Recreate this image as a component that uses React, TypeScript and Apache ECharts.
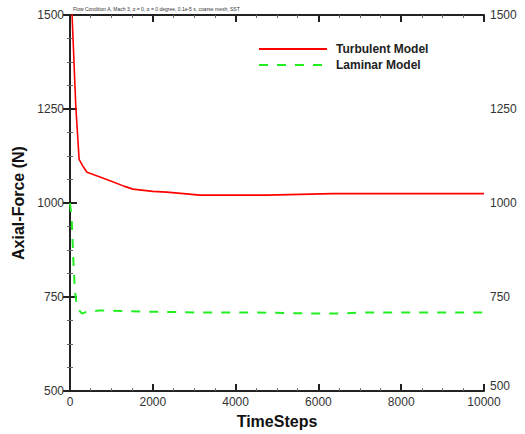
import React, { useEffect, useRef } from "react";
import * as echarts from "echarts";

const turbulentSteps = [0, 50, 140, 220, 300, 410, 725, 1000, 1300, 1520, 2000, 2340, 3140, 4750, 6350, 8000, 10000];
const turbulentForce = [1600, 1500, 1257, 1116, 1100, 1082, 1069, 1058, 1045, 1037, 1031, 1029, 1021, 1021, 1025, 1025, 1025];

const laminarSteps = [0, 40, 80, 100, 120, 160, 220, 290, 380, 460, 700, 1000, 2000, 3140, 4500, 6040, 6520, 7000, 10000];
const laminarForce = [1000, 960, 850, 807, 765, 733, 715, 706, 710, 712, 714, 714, 711, 709, 709, 706, 706, 709, 709];

const xTicks = [0, 2000, 4000, 6000, 8000, 10000];
const yTicks = [500, 750, 1000, 1250, 1500];

const FONT = "'Liberation Sans', Arial, sans-serif";

export default function App() {
  const ref = useRef<HTMLDivElement>(null);
  useEffect(() => {
    document.body.style.margin = "0";
    const chart = echarts.init(ref.current!, null, { renderer: "svg" });
    const axisLine = { show: true, lineStyle: { color: "#222", width: 2 } };
    const fmt = (v: number) => String(v);
    const fmtRight = (v: number) => (v === yTicks[0] ? "{lo|" + v + "}" : String(v));
    const yAxisCommon = {
      type: "value" as const,
      min: yTicks[0],
      max: yTicks[yTicks.length - 1],
      interval: 250,
      axisLine,
      axisTick: { show: true, inside: true, length: 7, lineStyle: { color: "#222", width: 2 } },
      minorTick: { show: true, splitNumber: 4, length: 3, lineStyle: { color: "#666", width: 1 } },
      splitLine: { show: false },
    };
    chart.setOption({
      animation: false,
      textStyle: { fontFamily: FONT },
      title: {
        text: "Flow Condition A, Mach 3, α = 0, α = 0 degree, 0.1e-5 s, coarse mesh, SST",
        left: 68,
        top: 1,
        textStyle: { fontSize: 5, fontWeight: "normal", color: "#333", fontFamily: FONT },
      },
      legend: {
        orient: "vertical",
        left: 253,
        top: 38,
        itemWidth: 68,
        itemHeight: 14,
        itemGap: 4,
        itemStyle: { opacity: 0 },
        textStyle: { fontSize: 12, fontWeight: "bold", color: "#222", fontFamily: FONT, padding: [0, 0, 0, 4] },
        data: ["Turbulent Model", "Laminar Model"],
      },
      grid: { left: 70, right: 41, top: 15, bottom: 41, containLabel: false },
      xAxis: [
        {
          type: "value",
          position: "bottom",
          min: xTicks[0],
          max: xTicks[xTicks.length - 1],
          interval: 2000,
          name: "TimeSteps",
          nameLocation: "middle",
          nameGap: 17,
          nameTextStyle: { fontSize: 16, fontWeight: "bold", color: "#111", fontFamily: FONT },
          axisLine,
          axisTick: { show: true, inside: true, length: 7, lineStyle: { color: "#222", width: 2 } },
          minorTick: { show: true, splitNumber: 4, length: 3, lineStyle: { color: "#666", width: 1 } },
          axisLabel: { fontSize: 12, color: "#333", margin: 5, fontFamily: FONT, formatter: fmt },
          splitLine: { show: false },
        },
        {
          type: "value",
          position: "top",
          min: xTicks[0],
          max: xTicks[xTicks.length - 1],
          interval: 2000,
          axisLine,
          axisTick: { show: true, inside: true, length: 7, lineStyle: { color: "#222", width: 2 } },
          minorTick: { show: true, splitNumber: 4, length: 3, lineStyle: { color: "#666", width: 1 } },
          axisLabel: { show: false },
          splitLine: { show: false },
        },
      ],
      yAxis: [
        {
          ...yAxisCommon,
          position: "left",
          name: "Axial-Force (N)",
          nameLocation: "middle",
          nameGap: 38,
          nameTextStyle: { fontSize: 16, fontWeight: "bold", color: "#111", fontFamily: FONT },
          axisLabel: { fontSize: 12, color: "#333", margin: 6, fontFamily: FONT, formatter: fmt },
        },
        {
          ...yAxisCommon,
          position: "right",
          axisLabel: {
            fontSize: 12,
            color: "#333",
            margin: 6,
            fontFamily: FONT,
            formatter: fmtRight,
            rich: { lo: { fontSize: 12, color: "#333", fontFamily: FONT, padding: [0, 0, 10, 0] } },
          },
        },
      ],
      series: [
        {
          name: "Turbulent Model",
          type: "line",
          showSymbol: false,
          symbol: "none",
          smooth: false,
          clip: true,
          data: turbulentSteps.map((s, i) => [s, turbulentForce[i]]),
          lineStyle: { color: "#ff0000", width: 1.6 },
          itemStyle: { color: "#ff0000" },
        },
        {
          name: "Laminar Model",
          type: "line",
          showSymbol: false,
          symbol: "none",
          clip: true,
          data: laminarSteps.map((s, i) => [s, laminarForce[i]]),
          lineStyle: { color: "#22ee22", width: 2, type: [9, 9] },
          itemStyle: { color: "#22ee22" },
        },
      ],
    });
    return () => chart.dispose();
  }, []);
  return <div ref={ref} style={{ width: 525, height: 434, position: "absolute", left: 0, top: 0 }} />;
}
